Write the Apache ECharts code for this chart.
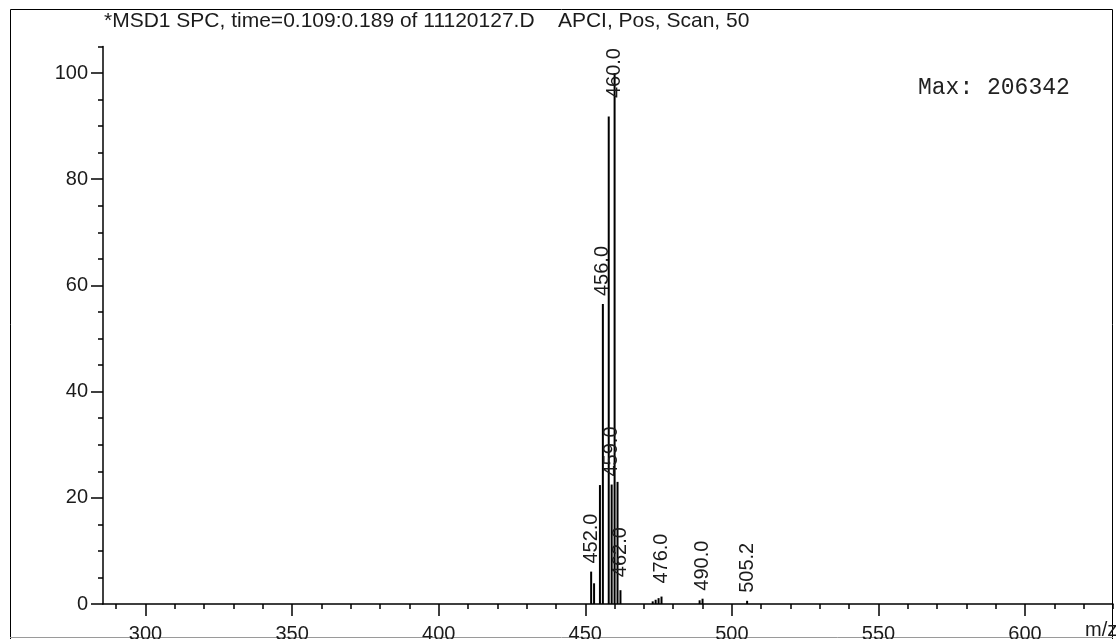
<!DOCTYPE html>
<html>
<head>
<meta charset="utf-8">
<script src="https://cdn.jsdelivr.net/npm/echarts@6/dist/echarts.min.js"></script>
<style>
  html, body { margin: 0; padding: 0; background: #fff; }
  #chart { width: 1116px; height: 639px; }
</style>
</head>
<body>
<div id="chart"></div>
<script>
// Mass spectrum, APCI positive scan: m/z and relative abundance (%)
const peakMz        = [452, 453, 455, 456, 458, 459, 460, 461, 462, 473, 474, 475, 476, 489, 490, 505.2];
const peakAbundance = [6.1, 3.9, 22.4, 56.5, 91.8, 22.5, 100, 23.0, 2.6, 0.5, 0.8, 1.1, 1.4, 0.7, 1.0, 0.6];
// Peaks that carry an m/z annotation
const labeledMz = [452, 456, 459, 460, 462, 476, 490, 505.2];

// Axis ticks
const xMajorTicks = [300, 350, 400, 450, 500, 550, 600];
const xMinorTicks = [290, 300, 310, 320, 330, 340, 350, 360, 370, 380, 390, 400, 410, 420, 430, 440, 450,
                     460, 470, 480, 490, 500, 510, 520, 530, 540, 550, 560, 570, 580, 590, 600, 610, 620, 630];
const yMajorTicks = [0, 20, 40, 60, 80, 100];
const yMinorTicks = [0, 5, 10, 15, 20, 25, 30, 35, 40, 45, 50, 55, 60, 65, 70, 75, 80, 85, 90, 95, 100, 105];

const headerText = '*MSD1 SPC, time=0.109:0.189 of 11120127.D    APCI, Pos, Scan, 50';
const maxText = 'Max: 206342';

const FONT = "'Liberation Sans', Arial, sans-serif";
const INK = '#1b1b1b';

// extra lift (px) for tags that sit higher above their stick
const labelLift = { 462: 5, 476: 5 };

const peakLabel = {
  show: true,
  rotate: 90,
  position: 'top',
  distance: 8,
  align: 'left',
  verticalAlign: 'middle',
  fontFamily: FONT,
  fontSize: 20,
  color: INK,
  formatter: p => p.value[0].toFixed(1)
};

const maxAbundance = Math.max(...peakAbundance);
const seriesData = peakMz.map((mz, i) => {
  const item = { value: [mz, peakAbundance[i]] };
  if (labeledMz.includes(mz)) {
    item.label = Object.assign({}, peakLabel);
    if (labelLift[mz]) item.label.distance = peakLabel.distance + labelLift[mz];
    // the base peak's tag is pulled down so it stays inside the frame
    if (peakAbundance[i] === maxAbundance) {
      item.label.align = 'center';
      item.label.distance = 0;
    }
  }
  return item;
});

const xRange = { min: 285.5, max: 630 };
const yRange = { min: 0, max: 105 };
const axisInk = { color: '#000', width: 1.5 };

const chart = echarts.init(document.getElementById('chart'), null, { renderer: 'canvas' });
chart.setOption({
  animation: false,
  backgroundColor: '#fff',
  grid: { left: 103, right: 3, top: 46.5, bottom: 35, containLabel: false, outerBoundsMode: 'none' },
  xAxis: [
    {
      type: 'value', position: 'bottom', ...xRange,
      axisLine: { show: true, onZero: false, lineStyle: axisInk },
      axisTick: { show: true, customValues: xMinorTicks, length: 5, lineStyle: axisInk },
      axisLabel: { show: false },
      splitLine: { show: false }
    },
    {
      type: 'value', position: 'bottom', ...xRange,
      axisLine: { show: false },
      axisTick: { show: true, customValues: xMajorTicks, length: 12, lineStyle: axisInk },
      axisLabel: { show: true, customValues: xMajorTicks, margin: 20, fontFamily: FONT, fontSize: 20, color: INK },
      splitLine: { show: false }
    }
  ],
  yAxis: [
    {
      type: 'value', position: 'left', ...yRange,
      axisLine: { show: true, lineStyle: axisInk },
      axisTick: { show: true, customValues: yMinorTicks, length: 5, lineStyle: axisInk },
      axisLabel: { show: false },
      splitLine: { show: false }
    },
    {
      type: 'value', position: 'left', ...yRange,
      axisLine: { show: false },
      axisTick: { show: true, customValues: yMajorTicks, length: 12, lineStyle: axisInk },
      axisLabel: { show: true, customValues: yMajorTicks, margin: 15, fontFamily: FONT, fontSize: 20, color: INK },
      splitLine: { show: false }
    }
  ],
  series: [
    {
      type: 'bar',
      xAxisIndex: 0,
      yAxisIndex: 0,
      barWidth: 2,
      itemStyle: { color: '#000' },
      data: seriesData
    }
  ],
  graphic: [
    {
      type: 'rect', silent: true,
      shape: { x: 10.5, y: 9.5, width: 1102, height: 640 },
      style: { fill: 'none', stroke: '#000', lineWidth: 1 }
    },
    {
      type: 'line', silent: true,
      shape: { x1: 10, y1: 637.5, x2: 1113, y2: 637.5 },
      style: { stroke: '#9a9a9a', lineWidth: 1 }
    },
    {
      type: 'text', silent: true, x: 104, y: 21,
      style: { text: headerText, font: '21px ' + FONT, fill: INK, verticalAlign: 'middle' }
    },
    {
      type: 'text', silent: true, x: 918, y: 88,
      style: { text: maxText, font: "23px 'Liberation Mono', 'Courier New', monospace", fill: '#222', verticalAlign: 'middle' }
    },
    {
      type: 'text', silent: true, x: 1085, y: 630,
      style: { text: 'm/z', font: '20px ' + FONT, fill: INK, verticalAlign: 'middle' }
    }
  ]
});
</script>
</body>
</html>
